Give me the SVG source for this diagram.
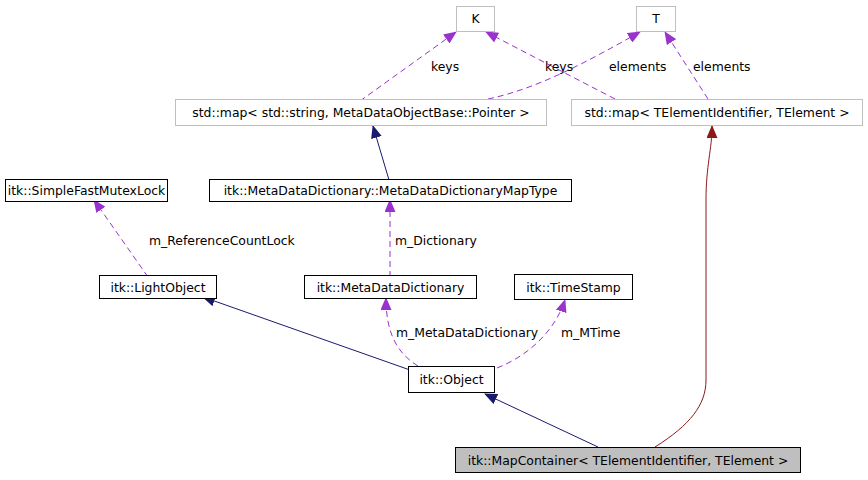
<svg xmlns="http://www.w3.org/2000/svg" width="868" height="480" viewBox="0 0 868 480">
<style>
text{font-family:"DejaVu Sans",sans-serif;font-size:12.4px;fill:#000}
.n rect{fill:#fff;stroke:#000;stroke-width:1}
.g rect{stroke:#bfbfbf}
.c{fill:none}
.b{stroke:#191970}
.p{stroke:#9a32cd;stroke-dasharray:6,4}
.r{stroke:#8b1a1a}
</style>
<defs>
<marker id="ab" markerWidth="13" markerHeight="11" refX="12" refY="5.5" orient="auto" markerUnits="userSpaceOnUse"><path d="M0,0L13,5.5L0,11z" fill="#191970"/></marker>
<marker id="ap" markerWidth="13" markerHeight="11" refX="12" refY="5.5" orient="auto" markerUnits="userSpaceOnUse"><path d="M0,0L13,5.5L0,11z" fill="#9a32cd"/></marker>
<marker id="ar" markerWidth="13" markerHeight="11" refX="12" refY="5.5" orient="auto" markerUnits="userSpaceOnUse"><path d="M0,0L13,5.5L0,11z" fill="#8b1a1a"/></marker>
</defs>
<g id="edges" class="c">
<path class="c p" d="M360,101L456,32" marker-end="url(#ap)"/>
<path class="c p" d="M615,99L486,32" marker-end="url(#ap)"/>
<path class="c p" d="M488,99C540,88 590,60 640,32" marker-end="url(#ap)"/>
<path class="c p" d="M708,99L665,32" marker-end="url(#ap)"/>
<path class="c b" d="M389,180L373,126" marker-end="url(#ab)"/>
<path class="c p" d="M148,277L94,200" marker-end="url(#ap)"/>
<path class="c p" d="M390,277L390,200" marker-end="url(#ap)"/>
<path class="c b" d="M410,370L203,297" marker-end="url(#ab)"/>
<path class="c p" d="M418,366C395,352 386,330 386,298" marker-end="url(#ap)"/>
<path class="c p" d="M497,368C530,355 555,330 565,300" marker-end="url(#ap)"/>
<path class="c b" d="M598,447L485,394" marker-end="url(#ab)"/>
<path class="c r" d="M655,447C690,425 706,405 706,380L706,200C706,165 712,150 712,126" marker-end="url(#ar)"/>
</g>
<g>
<text x="431" y="71">keys</text>
<text x="545" y="71">keys</text>
<text x="609" y="71">elements</text>
<text x="693" y="71">elements</text>
<text x="149" y="245">m_ReferenceCountLock</text>
<text x="395" y="245">m_Dictionary</text>
<text x="396" y="337">m_MetaDataDictionary</text>
<text x="561" y="337">m_MTime</text>
</g>
<g id="K" class="n g"><rect x="456.5" y="6.5" width="38" height="25"/><text x="475.5" y="23" text-anchor="middle">K</text></g>
<g id="T" class="n g"><rect x="636.5" y="6.5" width="39" height="25"/><text x="656" y="23" text-anchor="middle">T</text></g>
<g id="map1" class="n g"><rect x="175.5" y="99.5" width="371" height="26"/><text x="361" y="117" text-anchor="middle">std::map&lt; std::string, MetaDataObjectBase::Pointer &gt;</text></g>
<g id="map2" class="n g"><rect x="571.5" y="99.5" width="291" height="26"/><text x="717" y="117" text-anchor="middle">std::map&lt; TElementIdentifier, TElement &gt;</text></g>
<g id="mutex" class="n"><rect x="5.5" y="179.5" width="162" height="22"/><text x="86.5" y="195" text-anchor="middle">itk::SimpleFastMutexLock</text></g>
<g id="maptype" class="n"><rect x="209.5" y="179.5" width="362" height="22"/><text x="390.5" y="195" text-anchor="middle">itk::MetaDataDictionary::MetaDataDictionaryMapType</text></g>
<g id="light" class="n"><rect x="99.5" y="275.5" width="117" height="23"/><text x="158" y="292" text-anchor="middle">itk::LightObject</text></g>
<g id="mdd" class="n"><rect x="304.5" y="275.5" width="172" height="23"/><text x="390.5" y="292" text-anchor="middle">itk::MetaDataDictionary</text></g>
<g id="ts" class="n"><rect x="514.5" y="274.5" width="118" height="25"/><text x="573.5" y="292" text-anchor="middle">itk::TimeStamp</text></g>
<g id="obj" class="n"><rect x="408.5" y="366.5" width="86" height="26"/><text x="451.5" y="384" text-anchor="middle">itk::Object</text></g>
<g id="mc" class="n"><rect x="455.5" y="447.5" width="345" height="25" style="fill:#bfbfbf"/><text x="628" y="465" text-anchor="middle">itk::MapContainer&lt; TElementIdentifier, TElement &gt;</text></g>
</svg>
